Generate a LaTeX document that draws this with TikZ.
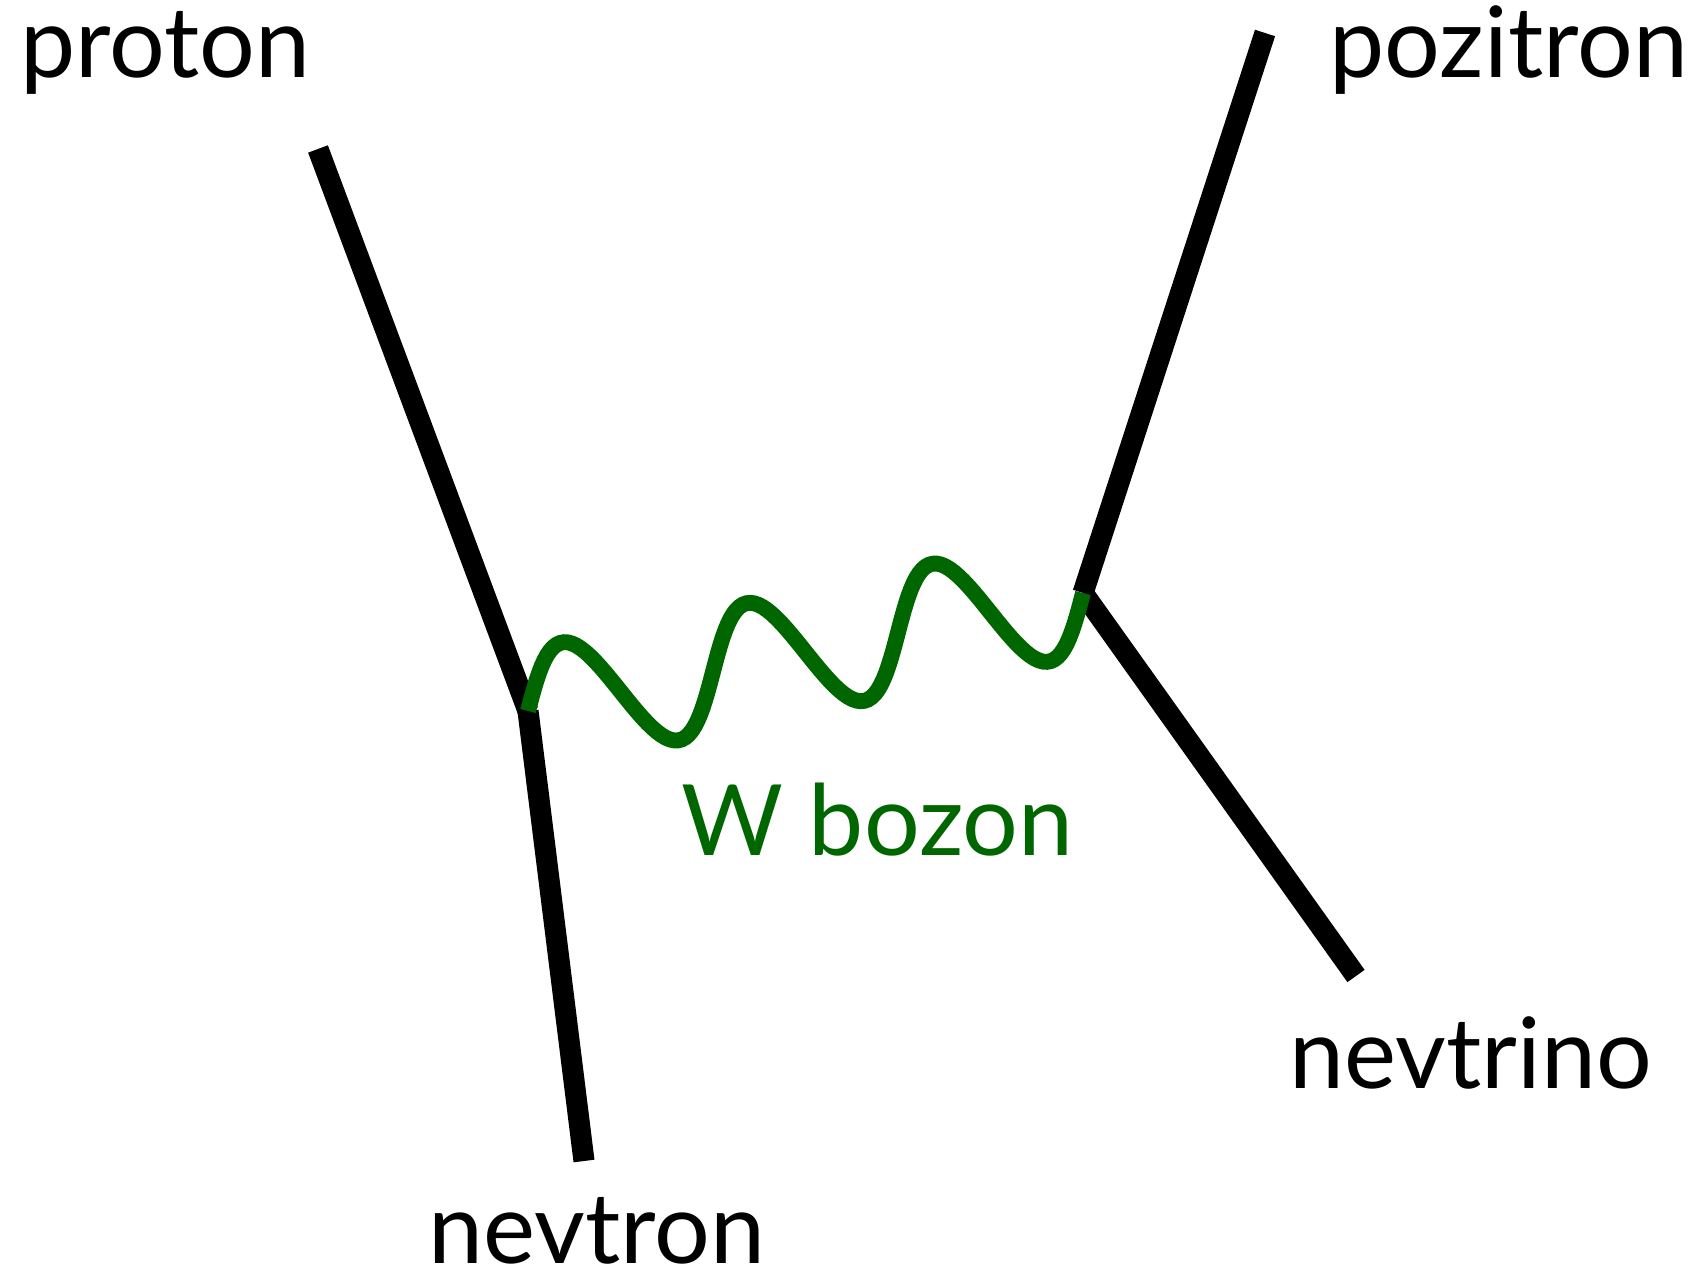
\documentclass[tikz,border=0pt]{standalone}
\usepackage{fontspec}
\setmainfont{Lato}
\usepackage{xcolor}
\usepackage{tikz}
\definecolor{wgreen}{RGB}{0,102,0}

\begin{document}
\begin{tikzpicture}[
  x=0.01cm, y=-0.01cm,
  font=\fontsize{28}{32}\selectfont,
  fermion/.style={line width=6pt, black},
  boson/.style={line width=4.5pt, wgreen},
  lbl/.style={anchor=base west, inner sep=0pt}
]
\useasboundingbox (0,0) rectangle (1701,1280);
\coordinate (pin)  at (318,149);
\coordinate (v1)   at (528,711);
\coordinate (nout) at (584,1161);
\coordinate (eout) at (1265,33);
\coordinate (v2)   at (1083,593);
\coordinate (nuout) at (1356,976);
\node[lbl] (proton)   at (20,78)    {proton};
\node[lbl] (pozitron) at (1329,78)  {pozitron};
\node[lbl, text=wgreen] (wlbl) at (681,855) {W bozon};
\node[lbl] (nevtrino) at (1289,1088) {nevtrino};
\node[lbl] (nevtron)  at (428,1263) {nevtron};
\draw[fermion] (pin) -- (v1);
\draw[fermion] (v1) -- (nout);
\draw[fermion] (eout) -- (v2);
\draw[fermion] (v2) -- (nuout);
% W line: three periods of a sine from v1 to v2
\begin{scope}[shift={(v1)}, rotate=12.0, x=0.01cm, y=0.01cm]
  \draw[boson] plot[domain=0:567.4, samples=150] (\x, {60*sin(\x*1.90345)});
\end{scope}
\end{tikzpicture}
\end{document}
